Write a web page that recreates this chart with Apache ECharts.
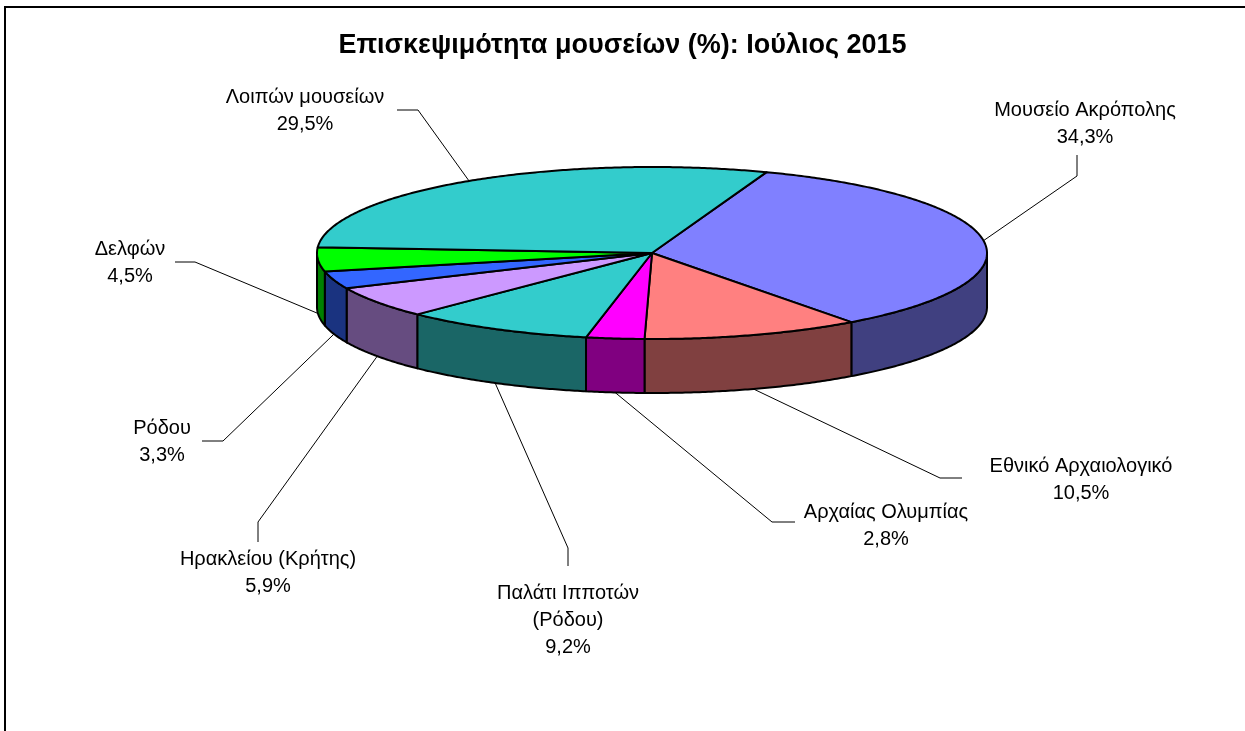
<!DOCTYPE html>
<html>
<head>
<meta charset="utf-8">
<script src="https://cdn.jsdelivr.net/npm/echarts@6/dist/echarts.min.js"></script>
<style>
    html, body { margin: 0; padding: 0; background: #fff; }
    #chart { width: 1245px; height: 731px; }
</style>
</head>
<body>
<div id="chart"></div>
<script>
// Data (clockwise from the first slice)
const museums = ['Μουσείο Ακρόπολης', 'Εθνικό Αρχαιολογικό', 'Αρχαίας Ολυμπίας', 'Παλάτι Ιπποτών\n(Ρόδου)',
    'Ηρακλείου (Κρήτης)', 'Ρόδου', 'Δελφών', 'Λοιπών μουσείων'];
const shares = [34.3, 10.5, 2.8, 9.2, 5.9, 3.3, 4.5, 29.5];
const topColors = ['#8080FF', '#FF8080', '#FF00FF', '#33CCCC', '#CC99FF', '#3366FF', '#00FF00', '#33CCCC'];
const sideColors = ['#404080', '#804040', '#800080', '#1A6666', '#664C80', '#1A3380', '#008000', '#1A6666'];

// Pie geometry (pixels) and first slice angle (degrees, clockwise from top)
const pie = { cx: 652, cy: 253, rx: 335, ry: 86, depth: 54, startAngle: 20 };
// Label placement: [labelX, labelY, elbowX, elbowY, endX, endY]
const labelLayout = [
    [1085, 124, 1077, 176, 1077, 155],
    [1081, 480, 940, 478, 962, 478],
    [886, 526, 772, 522, 795, 522],
    [568, 620, 568, 548, 568, 566],
    [268, 573, 258, 522, 258, 542],
    [162, 442, 223, 441, 202, 441],
    [130, 263, 195, 262, 175, 262],
    [305, 111, 418, 110, 397, 110]
];

const total = shares.reduce((a, b) => a + b, 0);

function pt(deg, dz) {
    const r = deg * Math.PI / 180;
    return [pie.cx + pie.rx * Math.sin(r), pie.cy - pie.ry * Math.cos(r) + dz];
}

function arc(a, b, dz) {
    const pts = [];
    const n = Math.max(2, Math.ceil(Math.abs(b - a) / 0.5));
    for (let k = 0; k <= n; k++) {
        pts.push(pt(a + (b - a) * k / n, dz));
    }
    return pts;
}

function fmt(v) {
    return v.toFixed(1).replace('.', ',') + '%';
}

function renderItem(params, api) {
    const i = params.dataIndex;
    let before = 0;
    for (let j = 0; j < i; j++) before += shares[j];
    const a0 = pie.startAngle + before / total * 360;
    const a1 = a0 + api.value(0) / total * 360;
    const children = [];

    // front side wall (visible between 90 and 270 degrees)
    const s = Math.max(a0, 90), e = Math.min(a1, 270);
    if (e > s) {
        children.push({
            type: 'polygon',
            z2: 1,
            shape: { points: arc(s, e, 0).concat(arc(e, s, pie.depth)) },
            style: { fill: sideColors[i], stroke: '#000', lineWidth: 2, lineJoin: 'round' }
        });
    }

    // top face
    children.push({
        type: 'polygon',
        z2: 2,
        shape: { points: [[pie.cx, pie.cy]].concat(arc(a0, a1, 0)) },
        style: { fill: topColors[i], stroke: '#000', lineWidth: 2, lineJoin: 'round' }
    });

    // leader line from the slice edge
    const mid = (a0 + a1) / 2;
    const front = Math.cos(mid * Math.PI / 180) < 0;
    const start = pt(mid, front ? pie.depth : 0);
    const L = labelLayout[i];
    children.push({
        type: 'polyline',
        z2: 3,
        shape: { points: [start, [L[2], L[3]], [L[4], L[5]]] },
        style: { stroke: '#000', lineWidth: 1, fill: null }
    });

    children.push({
        type: 'text',
        z2: 4,
        style: {
            x: L[0],
            y: L[1],
            text: museums[i] + '\n' + fmt(api.value(0)),
            align: 'center',
            verticalAlign: 'middle',
            font: '20px "Liberation Sans", Arial, sans-serif',
            lineHeight: 27,
            fill: '#000'
        }
    });

    return { type: 'group', children: children };
}

const chart = echarts.init(document.getElementById('chart'));

const option = {
    backgroundColor: '#fff',
    animation: false,
    title: {
        text: 'Επισκεψιμότητα μουσείων (%): Ιούλιος 2015',
        left: 'center',
        top: 27,
        textStyle: {
            fontFamily: '"Liberation Sans", Arial, sans-serif',
            fontSize: 27,
            fontWeight: 'bold',
            color: '#000'
        }
    },
    graphic: [{
        type: 'rect',
        shape: { x: 5, y: 7, width: 1300, height: 800 },
        style: { fill: 'none', stroke: '#000', lineWidth: 2 },
        silent: true
    }],
    series: [{
        type: 'custom',
        coordinateSystem: 'none',
        renderItem: renderItem,
        data: shares.map((v, i) => ({ name: museums[i], value: v }))
    }]
};

chart.setOption(option);
</script>
</body>
</html>
